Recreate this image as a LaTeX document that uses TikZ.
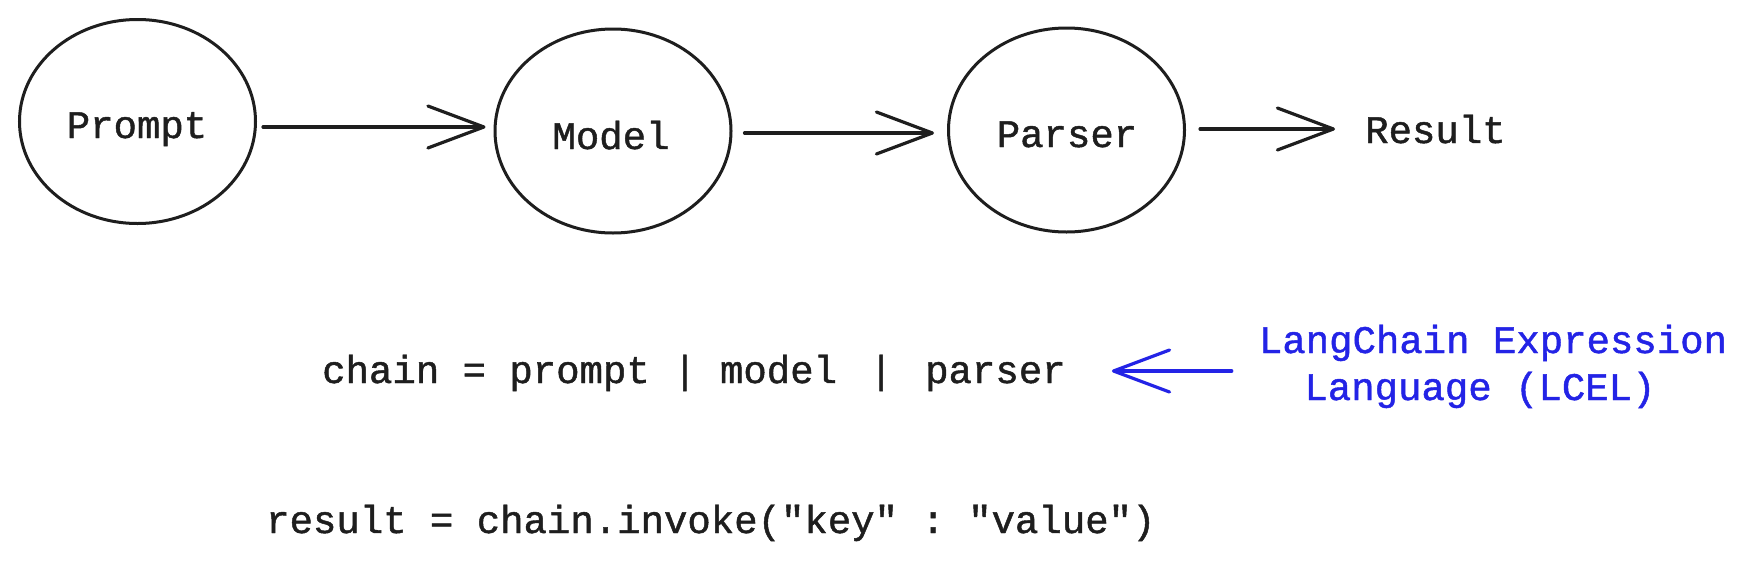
\documentclass[tikz,border=0pt]{standalone}
\usepackage{fontspec}
\newfontfamily\codefont{Liberation Mono}[FakeBold=1.2]
\usetikzlibrary{shapes.geometric,arrows.meta,calc}
\definecolor{ink}{HTML}{1E1E1E}
\definecolor{lcelblue}{RGB}{35,35,230}
\frenchspacing
\begin{document}
\begin{tikzpicture}[x=1pt,y=1pt,
  stage/.style={ellipse,draw=ink,line width=3pt,inner sep=0pt,minimum width=236pt,minimum height=204pt},
  txt/.style={inner sep=0pt,text height=28pt,text depth=8pt,text=ink,font=\fontsize{39}{47}\selectfont\codefont\frenchspacing},
  flow/.style={draw=ink,line width=3.2pt,line cap=round,-{Straight Barb[length=56pt,width=42pt,round]}},
  bflow/.style={draw=lcelblue,line width=3.2pt,line cap=round,-{Straight Barb[length=56pt,width=42pt,round]}}]
\useasboundingbox[fill=white] (0,0) rectangle (1747,-562);
% stages
\node[stage] (prompt) at (137.5,-121.5) {};
\node[stage] (model) at (613,-131) {};
\node[stage] (parser) at (1066.5,-130) {};
\node[txt,anchor=base] (promptlbl) at (137,-138) {Prompt};
\node[txt,anchor=base] (modellbl) at (611,-149) {Model};
\node[txt,anchor=base] (parserlbl) at (1067,-147) {Parser};
\node[txt,anchor=base west] (result) at (1365,-143) {Result};
% connectors
\draw[flow] ([shift={(6,-5.5)}]prompt.east) -- ([shift={(-8,4)}]model.west);
\draw[flow] ([shift={(12,-2)}]model.east) -- ([shift={(-13,-3)}]parser.west);
\draw[flow] ([shift={(14,1)}]parser.east) -- ([shift={(-30,4)}]result.west);
% code lines
\node[txt,anchor=base west] (chain) at (322,-383) {chain = prompt | model\hspace{9pt} |\hspace{9pt} parser};
\node[txt,anchor=base west] (invoke) at (266,-533) {result = chain.invoke("key" : "value")};
\node[txt,anchor=base,text=lcelblue] (lcel1) at (1493,-353) {LangChain Expression};
\node[txt,anchor=base,text=lcelblue] (lcel2) at (1480,-400) {Language (LCEL)};
\coordinate (btail) at ($(lcel1.west)+(-27,-28)$);
\path (btail -| chain.east) ++(46,0) coordinate (bhead);
\draw[bflow] (btail) -- (bhead);
\end{tikzpicture}
\end{document}
